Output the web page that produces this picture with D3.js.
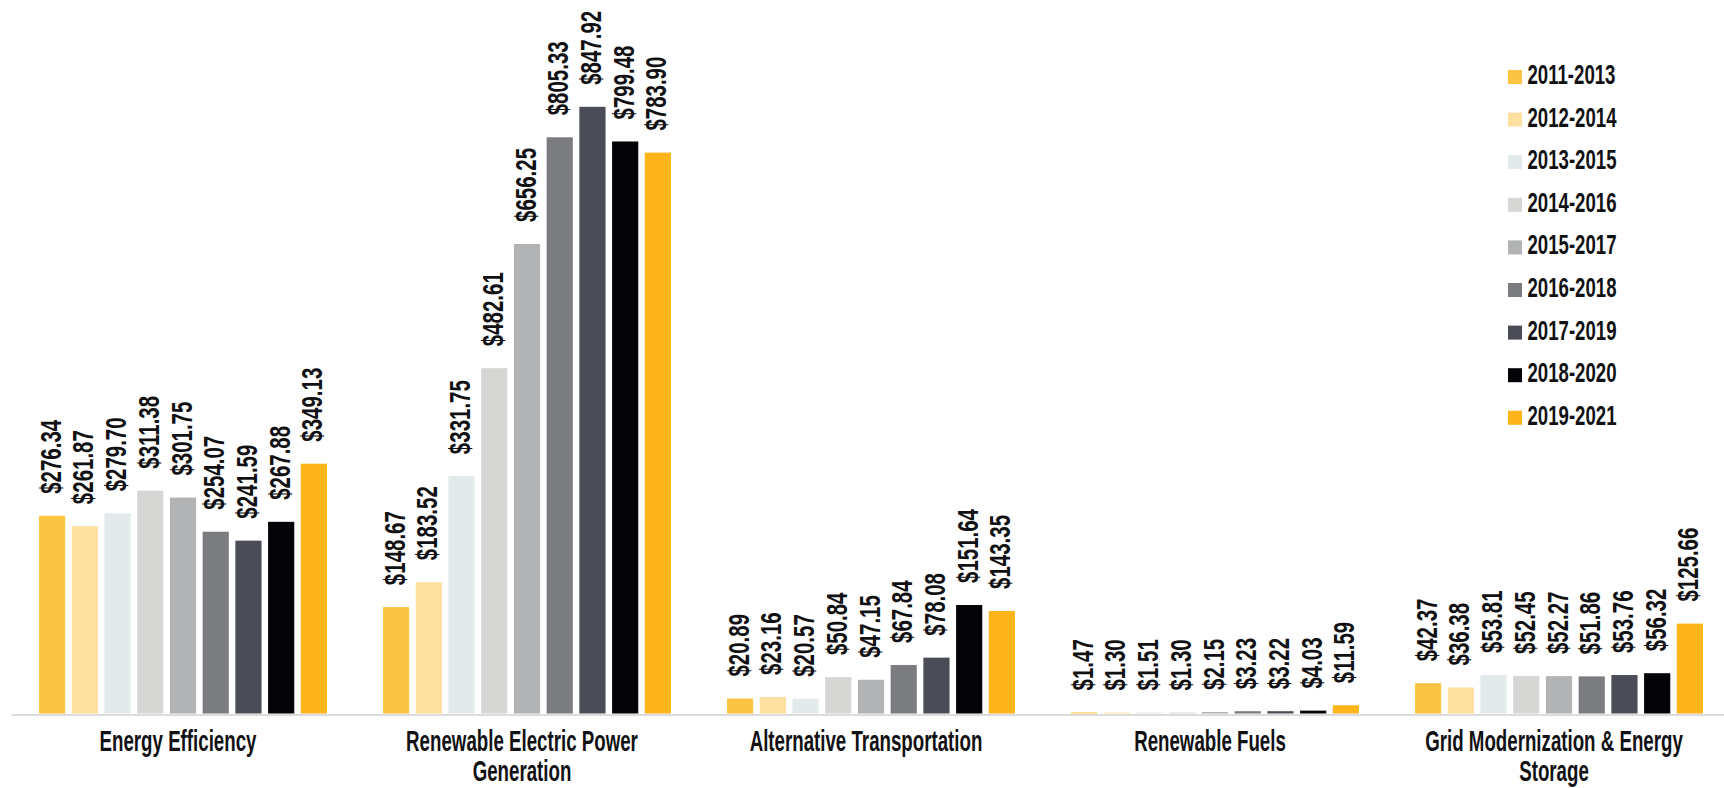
<!DOCTYPE html>
<html>
<head>
<meta charset="utf-8">
<script src="https://cdn.jsdelivr.net/npm/d3@7/dist/d3.min.js"></script>
<style>
  html, body { margin: 0; padding: 0; background: #ffffff; }
  svg { display: block; }
  text { font-family: "Liberation Sans Narrow", "Liberation Sans", "Arial Narrow", sans-serif; fill: #111114; font-weight: bold; }
</style>
</head>
<body>
<svg id="chart" width="1724" height="788"></svg>
<script>
// Investment by sector, three-year rolling periods (values in $ millions)
const categories = [
  "Energy Efficiency",
  "Renewable Electric Power Generation",
  "Alternative Transportation",
  "Renewable Fuels",
  "Grid Modernization & Energy Storage"
];
const categoryLines = [
  ["Energy Efficiency"],
  ["Renewable Electric Power", "Generation"],
  ["Alternative Transportation"],
  ["Renewable Fuels"],
  ["Grid Modernization & Energy", "Storage"]
];
const periods = [
  "2011-2013", "2012-2014", "2013-2015", "2014-2016", "2015-2017",
  "2016-2018", "2017-2019", "2018-2020", "2019-2021"
];
const colors = [
  "#fcc443", "#fde0a0", "#e3eaec", "#d6d6d4", "#b1b3b4",
  "#7a7c80", "#4a4d55", "#040308", "#fdb51a"
];
const v2011_2013 = [276.34, 148.67, 20.89, 1.47, 42.37];
const v2012_2014 = [261.87, 183.52, 23.16, 1.30, 36.38];
const v2013_2015 = [279.70, 331.75, 20.57, 1.51, 53.81];
const v2014_2016 = [311.38, 482.61, 50.84, 1.30, 52.45];
const v2015_2017 = [301.75, 656.25, 47.15, 2.15, 52.27];
const v2016_2018 = [254.07, 805.33, 67.84, 3.23, 51.86];
const v2017_2019 = [241.59, 847.92, 78.08, 3.22, 53.76];
const v2018_2020 = [267.88, 799.48, 151.64, 4.03, 56.32];
const v2019_2021 = [349.13, 783.90, 143.35, 11.59, 125.66];
const seriesValues = [
  v2011_2013, v2012_2014, v2013_2015, v2014_2016, v2015_2017,
  v2016_2018, v2017_2019, v2018_2020, v2019_2021
];

// one row per category, with a value per period
const rows = categories.map((c, ci) => ({
  category: c,
  values: periods.map((p, pi) => ({ period: p, value: seriesValues[pi][ci], color: colors[pi] }))
}));

const svg = d3.select("#chart");
const baseY = 713.5;

// condensed look: squeeze text horizontally so a sample string gets a set width
function squeeze(sample, size, width) {
  const t = svg.append("text").style("font-size", size + "px").text(sample);
  const w = t.node().getComputedTextLength();
  t.remove();
  return width / w;
}
const valueScale = squeeze("$276.34", 30, 74);
const categoryScale = squeeze("Energy Efficiency", 29, 157);
const legendScale = squeeze("2011-2013", 28, 88);

const x0 = d3.scaleBand()
  .domain(categories)
  .range([11, 1731])
  .paddingInner(0.1628)
  .paddingOuter(0.0814);

const x1 = d3.scaleBand()
  .domain(periods)
  .range([0, x0.bandwidth()])
  .paddingInner(0.2)
  .paddingOuter(0);

const y = d3.scaleLinear()
  .domain([0, 900])
  .range([baseY, baseY - 900 * 0.7155]);

const fmt = v => "$" + d3.format(",.2f")(v);

// bars
const groups = svg.append("g").selectAll("g.group")
  .data(rows)
  .join("g")
  .attr("class", "group")
  .attr("transform", d => `translate(${x0(d.category)},0)`);

groups.selectAll("rect")
  .data(d => d.values)
  .join("rect")
  .attr("x", d => x1(d.period))
  .attr("y", d => y(d.value))
  .attr("width", x1.bandwidth())
  .attr("height", d => y(0) - y(d.value))
  .attr("fill", d => d.color);

// rotated value labels above each bar
groups.selectAll("text.value")
  .data(d => d.values)
  .join("text")
  .attr("class", "value")
  .attr("transform", d =>
    `translate(${x1(d.period) + x1.bandwidth() - 4.5},${y(d.value) - 22}) rotate(-90) scale(${valueScale},1)`)
  .attr("text-anchor", "start")
  .style("font-size", "30px")
  .text(d => fmt(d.value));

// category axis
const axis = svg.append("g")
  .attr("transform", `translate(0,${baseY + 1})`)
  .call(d3.axisBottom(x0).tickSize(0).tickSizeOuter(0));

axis.select(".domain")
  .attr("stroke", "#dcdcdc")
  .attr("stroke-width", 2.2);

axis.selectAll(".tick text").each(function (d) {
  const t = d3.select(this);
  const lines = categoryLines[categories.indexOf(d)];
  t.text(null)
    .attr("y", 0)
    .attr("dy", null)
    .attr("fill", "#111114")
    .attr("transform", `translate(-5,0) scale(${categoryScale},1)`)
    .style("font-size", "29px")
    .style("font-weight", "bold")
    .style("font-family", "'Liberation Sans Narrow', 'Liberation Sans', 'Arial Narrow', sans-serif");
  lines.forEach((line, i) => {
    t.append("tspan")
      .attr("x", 0)
      .attr("y", 37 + i * 29.5)
      .text(line);
  });
});

// legend
const legend = svg.append("g").attr("transform", "translate(1508,70)");
const legendItems = legend.selectAll("g")
  .data(periods)
  .join("g")
  .attr("transform", (d, i) => `translate(0,${i * 42.6})`);

legendItems.append("rect")
  .attr("width", 14)
  .attr("height", 14)
  .attr("fill", (d, i) => colors[i]);

legendItems.append("text")
  .attr("transform", `translate(19.5,14) scale(${legendScale},1)`)
  .style("font-size", "28px")
  .text(d => d);
</script>
</body>
</html>
